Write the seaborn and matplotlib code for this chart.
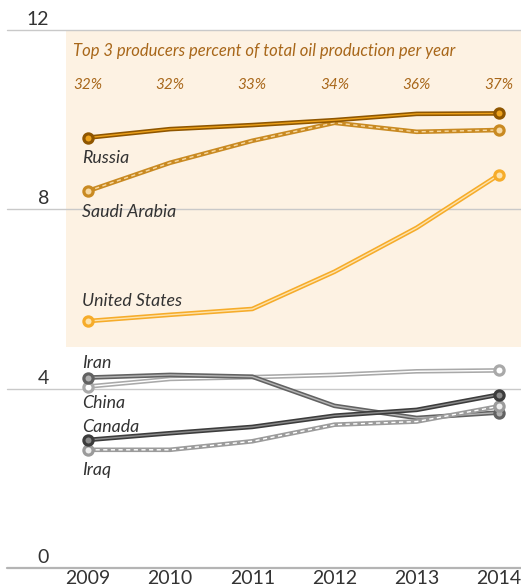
import matplotlib
matplotlib.use("Agg")
import matplotlib.pyplot as plt
import matplotlib.transforms as mtransforms
from matplotlib.patches import Rectangle
import seaborn as sns
import pandas as pd

sns.set_theme(style="white")
plt.rcParams['font.family'] = ['Lato', 'DejaVu Sans']

# ---------------- data ----------------
years = [2009, 2010, 2011, 2012, 2013, 2014]
russia = [9.60, 9.79, 9.88, 9.99, 10.13, 10.14]
saudi_arabia = [8.41, 9.04, 9.53, 9.93, 9.73, 9.77]
united_states = [5.51, 5.65, 5.78, 6.61, 7.59, 8.77]
iran = [4.25, 4.31, 4.27, 3.62, 3.35, 3.47]
china = [4.05, 4.22, 4.26, 4.31, 4.39, 4.41]
canada = [2.86, 3.01, 3.15, 3.40, 3.53, 3.87]
iraq = [2.64, 2.64, 2.83, 3.20, 3.27, 3.61]
top3_share = ["32%", "32%", "33%", "34%", "36%", "37%"]
y_ticks = [0, 4, 8, 12]
year_labels = ["2009", "2010", "2011", "2012", "2013", "2014"]
header = "Top 3 producers percent of total oil production per year"

series = {
    "Russia": russia,
    "Saudi Arabia": saudi_arabia,
    "United States": united_states,
    "Iran": iran,
    "China": china,
    "Canada": canada,
    "Iraq": iraq,
}

# ---------------- styles ----------------
style = {
    # outer, inner, marker face, inner dashed, label offset (px, positive=down)
    "China":         dict(outer="#a9a9a9", inner="#ffffff", face="#ffffff", dashed=False, off=21),
    "Iran":          dict(outer="#626262", inner="#b5b5b5", face="#b0b0b0", dashed=False, off=-10),
    "Iraq":          dict(outer="#9b9b9b", inner="#ffffff", face="#eeeeee", dashed=True,  off=25),
    "Canada":        dict(outer="#3c3c3c", inner="#8c8c8c", face="#8a8a8a", dashed=False, off=-8),
    "United States": dict(outer="#f6ac2a", inner="#fde3ae", face="#fde3ae", dashed=False, off=-15),
    "Saudi Arabia":  dict(outer="#c98a22", inner="#f7d9a3", face="#f7d9a3", dashed=True,  off=26),
    "Russia":        dict(outer="#8f5600", inner="#eda21c", face="#eda21c", dashed=False, off=25),
}

W, H = 521, 586
fig = plt.figure(figsize=(W / 100, H / 100), dpi=100)
fig.patch.set_facecolor("white")

px_per_unit = 44.85
y_top_px = 30
y_bot_px = y_top_px + 12 * px_per_unit
ax = fig.add_axes([7 / W, 1 - y_bot_px / H, 514 / W, (y_bot_px - y_top_px) / H])
ax.set_facecolor("none")

x_left, x_right = 2008.015, 2014.27
ax.set_xlim(x_left, x_right)
ax.set_ylim(0, 12)

# shaded box for top-3 producers
ax.add_patch(Rectangle((2008.73, 4.93), x_right - 2008.73, 12 - 4.93,
                       facecolor="#fdf2e3", edgecolor="none", zorder=0, clip_on=False))

# gridlines and y labels
for t in y_ticks:
    ax.axhline(t, color="#b4b4b4" if t == 0 else "#c9c9c9",
               lw=1.6 if t == 0 else 1.0, zorder=1, clip_on=False)
    tr = mtransforms.offset_copy(ax.get_yaxis_transform(), fig=fig, x=0, y=5, units="dots")
    ax.text(0.082, t, str(t), transform=tr, ha="right", va="baseline",
            fontsize=14, color="#333333")

# lines
order = ["China", "Iran", "Iraq", "Canada", "United States", "Saudi Arabia", "Russia"]
for i, name in enumerate(order):
    s = style[name]
    df = pd.DataFrame({"year": years, "value": series[name]})
    z = 3 + i
    sns.lineplot(data=df, x="year", y="value", ax=ax, color=s["outer"], lw=3.3,
                 zorder=z, legend=False)
    inner = sns.lineplot(data=df, x="year", y="value", ax=ax, color=s["inner"], lw=1.0,
                         zorder=z + 0.1, legend=False)
    if s["dashed"]:
        inner.lines[-1].set_dashes([3, 2.5])
    ends = df.iloc[[0, -1]]
    sns.scatterplot(data=ends, x="year", y="value", ax=ax, color=s["face"],
                    edgecolor=s["outer"], linewidth=2.3, s=44, zorder=z + 0.2,
                    legend=False)
    ax.text(years[0], series[name][0], name,
            transform=mtransforms.offset_copy(ax.transData, fig=fig, x=-6, y=-s["off"], units="dots"),
            ha="left", va="baseline", fontsize=12.8, style="italic", color="#333333",
            zorder=20)

# header and percentages
ax.text(2008.73, 12, header,
        transform=mtransforms.offset_copy(ax.transData, fig=fig, x=7, y=-21, units="dots"),
        ha="left", va="center", fontsize=12, style="italic", color="#a8671a")
for yr, lab in zip(years, top3_share):
    ax.text(yr, 12, lab,
            transform=mtransforms.offset_copy(ax.transData, fig=fig, x=0, y=-55, units="dots"),
            ha="center", va="center", fontsize=11, style="italic", color="#a8671a")

ax.set_xticks(years)
ax.set_xticklabels(year_labels, fontsize=14, color="#333333")
ax.tick_params(axis="x", length=0, pad=1.5)
ax.set_yticks([])
ax.set_xlabel("")
ax.set_ylabel("")
for sp in ax.spines.values():
    sp.set_visible(False)

fig.savefig("out.png", dpi=100, facecolor="white")
